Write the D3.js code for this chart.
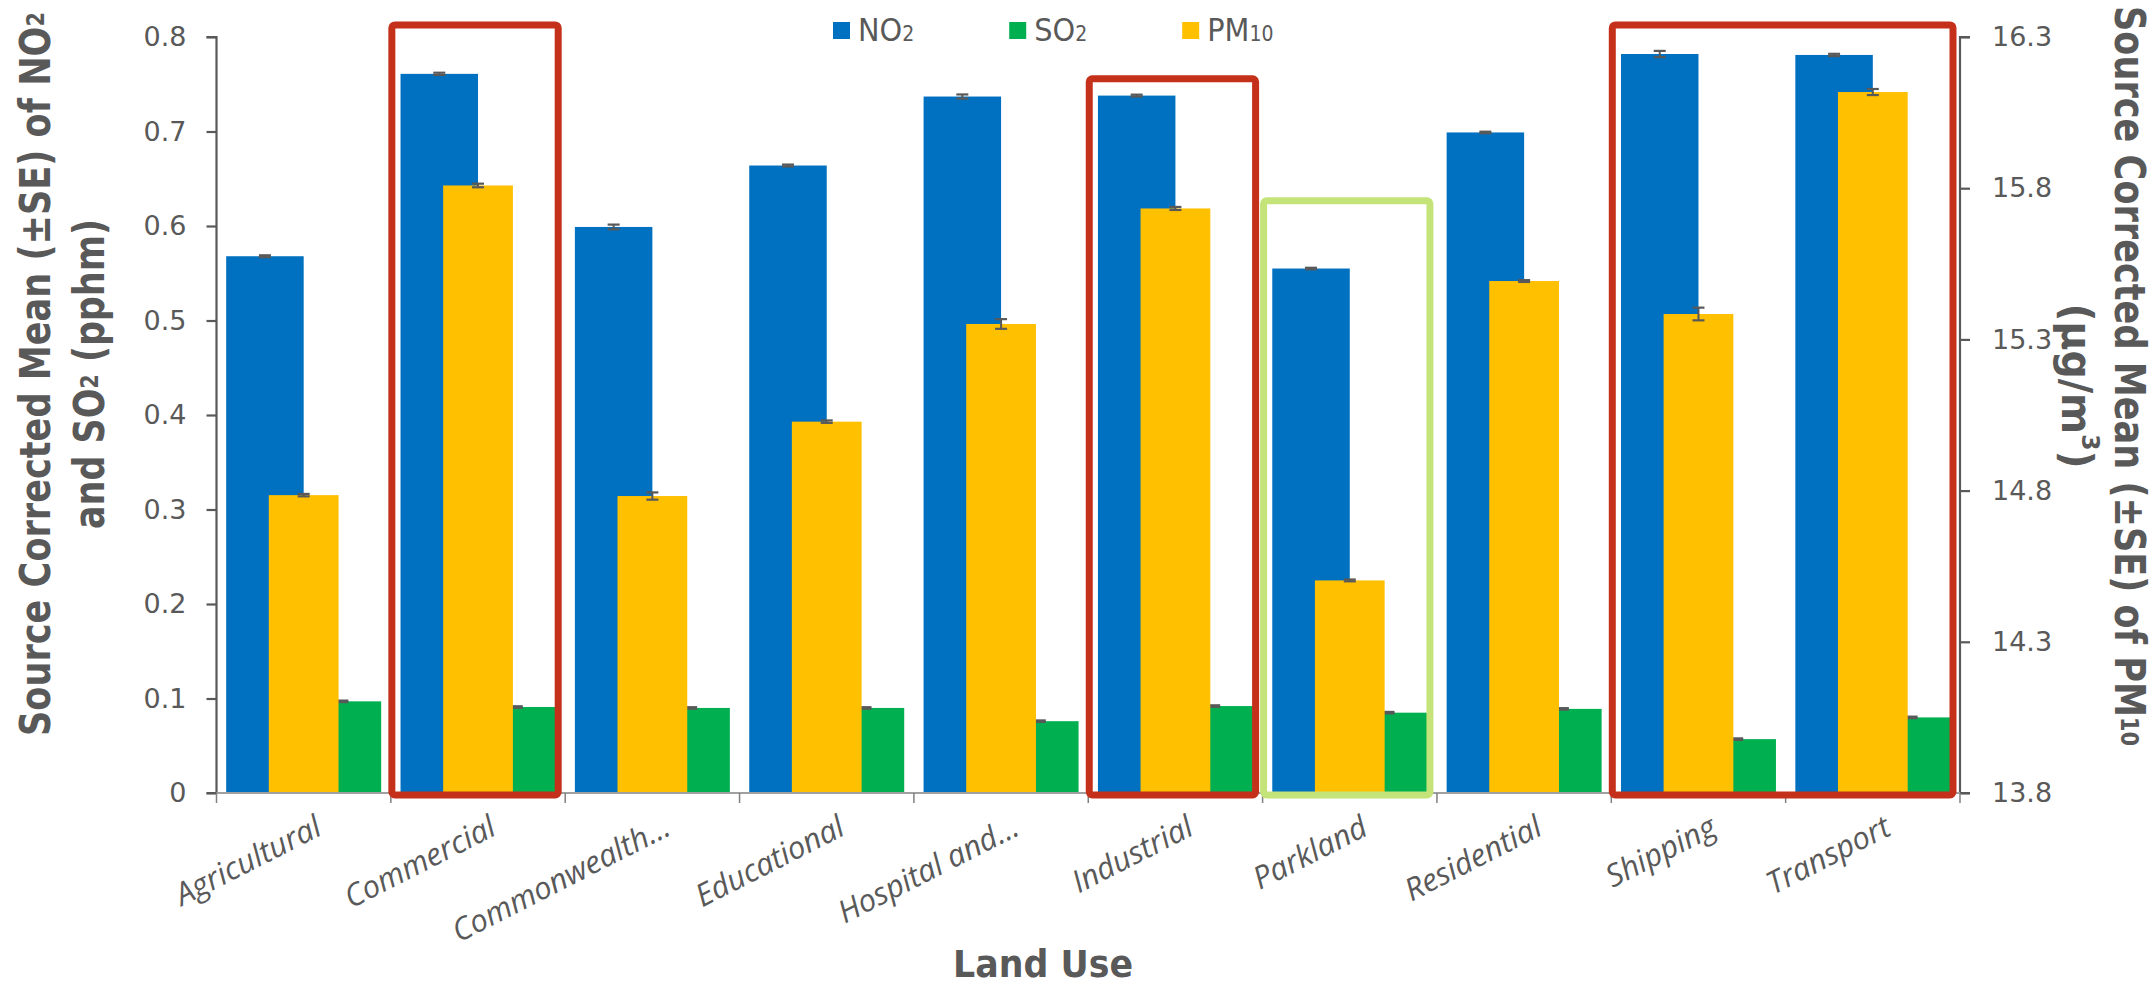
<!DOCTYPE html>
<html>
<head>
<meta charset="utf-8">
<script src="https://cdn.jsdelivr.net/npm/d3@7"></script>
<style>
  html, body { margin: 0; padding: 0; background: #ffffff; }
  svg { display: block; }
</style>
</head>
<body>
<svg id="chart" width="2156" height="986"></svg>
<script>
// ---------------- DATA ----------------
const categories = ["Agricultural", "Commercial", "Commonwealth...", "Educational", "Hospital and...",
                    "Industrial", "Parkland", "Residential", "Shipping", "Transport"];
const no2Values  = [0.568, 0.761, 0.599, 0.664, 0.737, 0.738, 0.555, 0.699, 0.782, 0.781];
const no2SE      = [0.001, 0.0012, 0.0025, 0.001, 0.0022, 0.001, 0.0008, 0.0008, 0.0033, 0.0012];
const so2Values  = [0.097, 0.091, 0.090, 0.090, 0.076, 0.092, 0.085, 0.089, 0.057, 0.080];
const so2SE      = [0.0008, 0.0008, 0.0008, 0.0008, 0.0008, 0.0008, 0.0008, 0.0008, 0.0008, 0.0008];
const pm10Values = [14.785, 15.809, 14.782, 15.028, 15.351, 15.733, 14.503, 15.493, 15.384, 16.118];
const pm10SE     = [0.004, 0.006, 0.012, 0.004, 0.016, 0.005, 0.003, 0.003, 0.021, 0.010];
const leftTicks  = [0, 0.1, 0.2, 0.3, 0.4, 0.5, 0.6, 0.7, 0.8];
const rightTicks = [13.8, 14.3, 14.8, 15.3, 15.8, 16.3];
const legendItems = [
  {key: "NO2", main: "NO", sub: "2", color: "#0070C0"},
  {key: "SO2", main: "SO", sub: "2", color: "#00B050"},
  {key: "PM10", main: "PM", sub: "10", color: "#FFC000"}
];
// highlight boxes (category span, top on the left axis scale)
const highlights = [
  {from: "Commercial", to: "Commercial", top: 0.8128, color: "#C5301B"},
  {from: "Industrial", to: "Industrial", top: 0.7557, color: "#C5301B"},
  {from: "Parkland",   to: "Parkland",   top: 0.6266, color: "#C4E47A"},
  {from: "Shipping",   to: "Transport",  top: 0.8128, color: "#C5301B"}
];

// ---------------- LAYOUT ----------------
const svg = d3.select("#chart");
const TEXT = "#595959";
const plot = {left: 216.5, right: 1960, top: 37, bottom: 793};
const tickFont = "'DejaVu Sans', sans-serif";
const catFont = "'Open Sans', 'Noto Sans', sans-serif";
const titleFont = "'DejaVu Sans', sans-serif";
const legendFont = "'Liberation Sans Narrow', 'DejaVu Sans Condensed', sans-serif";

const x = d3.scaleBand().domain(categories).range([plot.left, plot.right]).paddingInner(0).paddingOuter(0);
const bw = x.bandwidth();
const xPrim = d3.scaleBand().domain(["NO2", "SO2"]).range([0, bw]).paddingInner(0).paddingOuter(0.125);
const xSec = d3.scaleBand().domain(["PM10"]).range([0, bw]).paddingInner(0).paddingOuter(0.75);
const yL = d3.scaleLinear().domain([0, 0.8]).range([plot.bottom, plot.top]);
const yR = d3.scaleLinear().domain([13.8, 16.3]).range([plot.bottom, plot.top]);

const rows = categories.map((c, i) => ({
  cat: c, no2: no2Values[i], no2se: no2SE[i], so2: so2Values[i], so2se: so2SE[i],
  pm10: pm10Values[i], pm10se: pm10SE[i]
}));

// ---------------- BARS ----------------
const gBars = svg.append("g");
gBars.selectAll("rect.no2").data(rows).join("rect")
  .attr("x", d => x(d.cat) + xPrim("NO2")).attr("width", xPrim.bandwidth())
  .attr("y", d => yL(d.no2)).attr("height", d => yL(0) - yL(d.no2))
  .attr("fill", "#0070C0");
gBars.selectAll("rect.so2").data(rows).join("rect")
  .attr("x", d => x(d.cat) + xPrim("SO2")).attr("width", xPrim.bandwidth())
  .attr("y", d => yL(d.so2)).attr("height", d => yL(0) - yL(d.so2))
  .attr("fill", "#00B050");
function errBar(g, cx, yTop, yBot) {
  g.append("line").attr("x1", cx).attr("x2", cx).attr("y1", yTop).attr("y2", yBot)
    .attr("stroke", TEXT).attr("stroke-width", 2);
  [yTop, yBot].forEach(yy => g.append("line").attr("x1", cx - 6).attr("x2", cx + 6)
    .attr("y1", yy).attr("y2", yy).attr("stroke", TEXT).attr("stroke-width", 2.2));
}
const gErrP = svg.append("g");
rows.forEach(d => {
  const cN = x(d.cat) + xPrim("NO2") + xPrim.bandwidth() / 2;
  errBar(gErrP, cN, yL(d.no2 + d.no2se), yL(d.no2 - d.no2se));
  const cS = x(d.cat) + xPrim("SO2") + xPrim.bandwidth() / 2;
  errBar(gErrP, cS, yL(d.so2 + d.so2se), yL(d.so2 - d.so2se));
});
svg.append("g").selectAll("rect").data(rows).join("rect")
  .attr("x", d => x(d.cat) + xSec("PM10")).attr("width", xSec.bandwidth())
  .attr("y", d => yR(d.pm10)).attr("height", d => yR(13.8) - yR(d.pm10))
  .attr("fill", "#FFC000");
const gErrS = svg.append("g");
rows.forEach(d => {
  const c = x(d.cat) + xSec("PM10") + xSec.bandwidth() / 2;
  errBar(gErrS, c, yR(d.pm10 + d.pm10se), yR(d.pm10 - d.pm10se));
});

// ---------------- AXES ----------------
const axL = svg.append("g").attr("transform", `translate(${plot.left},0)`)
  .call(d3.axisLeft(yL).tickValues(leftTicks).tickSize(10).tickPadding(20)
    .tickFormat(d => d === 0 ? "0" : d3.format(".1f")(d)));
axL.select(".domain").attr("stroke", TEXT).attr("stroke-width", 2.2).attr("d", `M-10,${plot.bottom}H0V${plot.top}H-10`);
axL.selectAll(".tick line").attr("stroke", TEXT).attr("stroke-width", 2.2);
axL.selectAll(".tick text").attr("fill", TEXT).style("font-family", tickFont).style("font-size", "27px");

const axR = svg.append("g").attr("transform", `translate(${plot.right},0)`)
  .call(d3.axisRight(yR).tickValues(rightTicks).tickSize(10).tickPadding(22)
    .tickFormat(d3.format(".1f")));
axR.select(".domain").attr("stroke", TEXT).attr("stroke-width", 2.2).attr("d", `M10,${plot.bottom}H0V${plot.top}H10`);
axR.selectAll(".tick line").attr("stroke", TEXT).attr("stroke-width", 2.2);
axR.selectAll(".tick text").attr("fill", TEXT).style("font-family", tickFont).style("font-size", "27px");

const gX = svg.append("g");
gX.append("line").attr("x1", plot.left).attr("x2", plot.right).attr("y1", plot.bottom).attr("y2", plot.bottom)
  .attr("stroke", "#A0A0A0").attr("stroke-width", 2.2);
const boundaries = categories.map(c => x(c)).concat([plot.right]);
gX.selectAll("line.tk").data(boundaries).join("line")
  .attr("x1", d => d).attr("x2", d => d).attr("y1", plot.bottom).attr("y2", plot.bottom + 10)
  .attr("stroke", "#808080").attr("stroke-width", 1.5);
gX.selectAll("text.cat").data(categories).join("text")
  .attr("transform", d => `translate(${x(d) + bw / 2 + 20},${plot.bottom + 41}) rotate(-27)`)
  .attr("text-anchor", "end")
  .attr("fill", TEXT).style("font-family", catFont).style("font-style", "italic").style("font-size", "31px")
  .text(d => d);

// ---------------- TITLES ----------------
function titleText(g, xx, yy, len, size) {
  return g.append("text").attr("x", xx).attr("y", yy).attr("text-anchor", "middle")
    .attr("dominant-baseline", "central").attr("fill", TEXT)
    .attr("textLength", len).attr("lengthAdjust", "spacingAndGlyphs")
    .style("font-family", titleFont).style("font-weight", "bold").style("font-size", size + "px");
}
const lt = svg.append("g").attr("transform", "translate(0,374) rotate(-90)");
const lt1 = titleText(lt, 0, 35, 724, 42);
lt1.append("tspan").text("Source Corrected Mean (±SE) of NO");
lt1.append("tspan").text("2").style("font-size", "25px");
const lt2 = titleText(lt, 0, 89, 310, 42);
lt2.append("tspan").text("and SO");
lt2.append("tspan").text("2").style("font-size", "25px");
lt2.append("tspan").text(" (pphm)");

const rt = svg.append("g").attr("transform", "translate(2156,376) rotate(90)");
const rt1 = titleText(rt, 0, 2156 - 2130, 740, 42);
rt1.append("tspan").text("Source Corrected Mean (±SE) of PM");
rt1.append("tspan").text("10").style("font-size", "25px");
const rt2 = titleText(rt, 10, 2156 - 2077, 165, 42);
rt2.append("tspan").text("(µg/m");
rt2.append("tspan").text("3").style("font-size", "25px").attr("dy", -14);
rt2.append("tspan").text(")").attr("dy", 14);

svg.append("text").attr("x", 1043).attr("y", 977).attr("text-anchor", "middle").attr("fill", TEXT)
  .attr("textLength", 180).attr("lengthAdjust", "spacingAndGlyphs")
  .style("font-family", titleFont).style("font-weight", "bold").style("font-size", "37px")
  .text("Land Use");

// ---------------- LEGEND ----------------
const gLeg = svg.append("g").attr("transform", "translate(833,0)");
let lx = 0;
legendItems.forEach(it => {
  const g = gLeg.append("g").attr("transform", `translate(${lx},0)`);
  g.append("rect").attr("x", 0).attr("y", 22).attr("width", 17).attr("height", 17).attr("fill", it.color);
  const t = g.append("text").attr("x", 25).attr("y", 41).attr("fill", TEXT)
    .style("font-family", legendFont).style("font-size", "32px");
  t.append("tspan").text(it.main);
  t.append("tspan").text(it.sub).style("font-size", "21px");
  const w = t.node().getComputedTextLength();
  lx += 25 + w + 95;
});

// ---------------- HIGHLIGHT BOXES ----------------
svg.append("g").selectAll("rect").data(highlights).join("rect")
  .attr("x", d => x(d.from) + 1)
  .attr("y", d => yL(d.top))
  .attr("width", d => x(d.to) + bw - 7 - (x(d.from) + 1))
  .attr("height", d => yL(0) + 2 - yL(d.top))
  .attr("rx", 3).attr("ry", 3)
  .attr("fill", "none").attr("stroke", d => d.color).attr("stroke-width", 7);
</script>
</body>
</html>
